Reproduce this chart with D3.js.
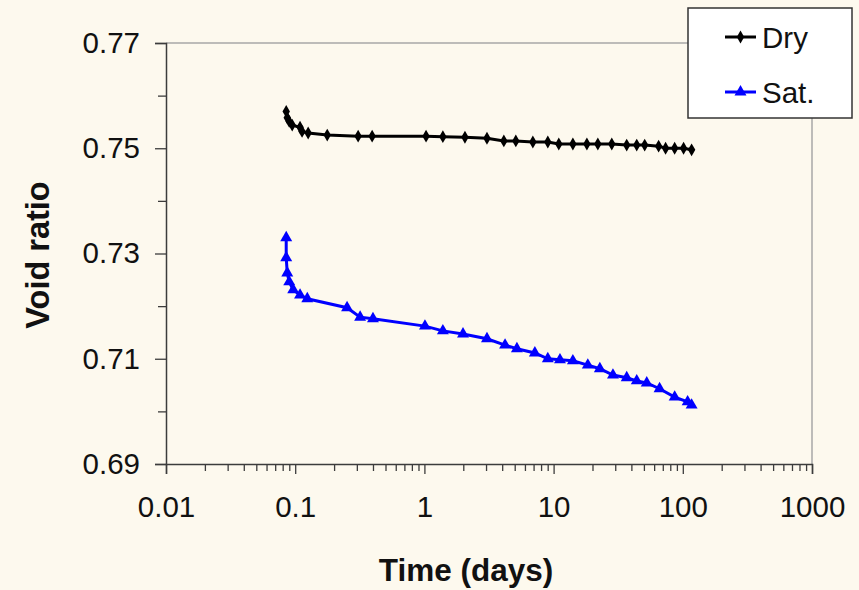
<!DOCTYPE html>
<html>
<head>
<meta charset="utf-8">
<script src="https://cdn.jsdelivr.net/npm/d3@7"></script>
<style>
  html, body { margin: 0; padding: 0; background: #fdf9ee; }
  svg { display: block; }
  text { font-family: "Liberation Sans", Arial, sans-serif; fill: #111; }
</style>
</head>
<body>
<svg id="chart" width="859" height="590"></svg>
<script>
// Creep of the specimen: void ratio against elapsed time (log scale)
const dryTime = [0.0852, 0.0868, 0.0899, 0.0948, 0.109, 0.113, 0.126, 0.177, 0.307, 0.394,
  1.03, 1.39, 2.06, 3.05, 4.12, 5.10, 6.91, 9.02, 10.97, 14.1, 18.1, 22.0, 28.2, 36.8,
  44.0, 50.7, 65.0, 73.6, 86.5, 101.4, 117];
const dryVoid = [0.7570, 0.7558, 0.7551, 0.7544, 0.7540, 0.7532, 0.7529, 0.7525, 0.7523, 0.7523,
  0.7523, 0.7522, 0.7521, 0.7519, 0.7514, 0.7514, 0.7512, 0.7512, 0.7508, 0.7508, 0.7508, 0.7508,
  0.7508, 0.7506, 0.7506, 0.7506, 0.7504, 0.7500, 0.7500, 0.7500, 0.7497];

const satTime = [0.0852, 0.0852, 0.0868, 0.0899, 0.0965, 0.109, 0.124, 0.252, 0.318, 0.400,
  1.01, 1.39, 1.99, 3.05, 4.21, 5.20, 7.16, 9.02, 11.2, 14.1, 18.4, 22.8, 28.8, 36.8,
  44.0, 52.6, 66.1, 86.5, 109, 117];
const satVoid = [0.7330, 0.7292, 0.7263, 0.7246, 0.7231, 0.7221, 0.7214, 0.7197, 0.7179, 0.7176,
  0.7162, 0.7153, 0.7147, 0.7138, 0.7126, 0.7119, 0.7111, 0.7100, 0.7098, 0.7096, 0.7088, 0.7081,
  0.7069, 0.7064, 0.7058, 0.7054, 0.7043, 0.7027, 0.7018, 0.7012];

const xTicks = [0.01, 0.1, 1, 10, 100, 1000];
const yTicks = [0.69, 0.71, 0.73, 0.75, 0.77];
const yMinorTicks = [0.70, 0.72, 0.74, 0.76];

const seriesNames = ["Dry", "Sat."];
const seriesColors = ["#000000", "#0000ff"];

const svg = d3.select("#chart");
const plot = { left: 166, right: 812, top: 43, bottom: 464 };

const x = d3.scaleLog().domain([0.01, 1000]).range([plot.left, plot.right]);
const y = d3.scaleLinear().domain([0.69, 0.77]).range([plot.bottom, plot.top]);

// minor x ticks: 2..9 within each decade
const xMinor = [];
for (let d = 0; d < xTicks.length - 1; d++) {
  for (let k = 2; k <= 9; k++) xMinor.push(xTicks[d] * k);
}

// light frame on top and right of the plot area
svg.append("path")
  .attr("d", `M${plot.left},${plot.top}H${plot.right}V${plot.bottom}`)
  .attr("fill", "none").attr("stroke", "#a8a8a8").attr("stroke-width", 1.5);

const axisColor = "#3c3c3c";

// y axis
svg.append("g").attr("transform", `translate(${plot.left},0)`)
  .call(d3.axisLeft(y).tickValues(yTicks).tickFormat(d3.format(".2f")).tickSize(11).tickPadding(15));
svg.append("g").attr("transform", `translate(${plot.left},0)`)
  .call(d3.axisLeft(y).tickValues(yMinorTicks).tickFormat("").tickSize(8))
  .call(g => g.select(".domain").remove());

// x axis
svg.append("g").attr("transform", `translate(0,${plot.bottom})`)
  .call(d3.axisBottom(x).tickValues(xTicks).tickFormat(d => String(d)).tickSize(10).tickPadding(22));
svg.append("g").attr("transform", `translate(0,${plot.bottom})`)
  .call(d3.axisBottom(x).tickValues(xMinor).tickFormat("").tickSize(7))
  .call(g => g.select(".domain").remove());

svg.selectAll(".domain").attr("stroke", axisColor).attr("stroke-width", 1.5);
svg.selectAll(".tick line").attr("stroke", axisColor).attr("stroke-width", 1.3);
svg.selectAll(".tick text")
  .attr("font-size", 29.5)
  .attr("font-family", "Liberation Sans, Arial, sans-serif")
  .attr("fill", "#111");

// axis titles
svg.append("text")
  .attr("x", 466).attr("y", 581)
  .attr("text-anchor", "middle")
  .attr("font-size", 31.5).attr("font-weight", "bold")
  .text("Time (days)");
svg.append("text")
  .attr("transform", "translate(49,255) rotate(-90)")
  .attr("text-anchor", "middle")
  .attr("font-size", 32.5).attr("font-weight", "bold")
  .text("Void ratio");

// series
const line = d3.line().x(d => x(d[0])).y(d => y(d[1]));
const dry = dryTime.map((t, i) => [t, dryVoid[i]]);
const sat = satTime.map((t, i) => [t, satVoid[i]]);

const diamond = d3.symbol().type(d3.symbolDiamond).size(48);
const triangle = d3.symbol().type(d3.symbolTriangle).size(62);

svg.append("path").datum(dry).attr("d", line)
  .attr("fill", "none").attr("stroke", seriesColors[0]).attr("stroke-width", 3);
svg.append("g").selectAll("path").data(dry).join("path")
  .attr("transform", d => `translate(${x(d[0])},${y(d[1])})`)
  .attr("d", diamond).attr("fill", seriesColors[0]);

svg.append("path").datum(sat).attr("d", line)
  .attr("fill", "none").attr("stroke", seriesColors[1]).attr("stroke-width", 3);
svg.append("g").selectAll("path").data(sat).join("path")
  .attr("transform", d => `translate(${x(d[0])},${y(d[1])})`)
  .attr("d", triangle).attr("fill", seriesColors[1]);

// legend
const legend = svg.append("g");
legend.append("rect")
  .attr("x", 688).attr("y", 8).attr("width", 164).attr("height", 110)
  .attr("fill", "#ffffff").attr("stroke", "#333").attr("stroke-width", 1.5);
const legendRows = [37, 92];
const legendMarks = [diamond, triangle];
seriesNames.forEach((name, i) => {
  const ly = legendRows[i];
  legend.append("line").attr("x1", 725).attr("x2", 756).attr("y1", ly).attr("y2", ly)
    .attr("stroke", seriesColors[i]).attr("stroke-width", 3);
  legend.append("path").attr("transform", `translate(740.5,${ly})`)
    .attr("d", legendMarks[i]).attr("fill", seriesColors[i]);
  legend.append("text").attr("x", 762).attr("y", ly + 11)
    .attr("font-size", 29.5).text(name);
});
</script>
</body>
</html>
